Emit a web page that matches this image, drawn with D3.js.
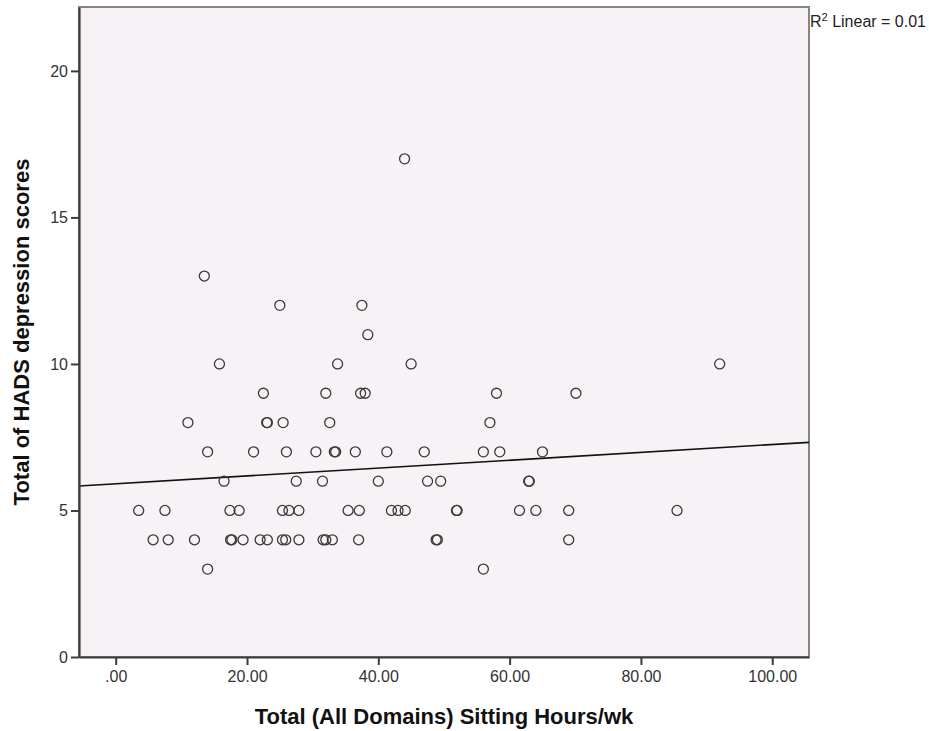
<!DOCTYPE html>
<html>
<head>
<meta charset="utf-8">
<script src="https://cdn.jsdelivr.net/npm/d3@7"></script>
<style>
  body { margin: 0; background: #fff; }
  .tick text { font-family: "Liberation Sans", Arial, sans-serif; font-size: 16px; fill: #333; }
  .axisTitle { font-family: "Liberation Sans", Arial, sans-serif; font-size: 22px; font-weight: bold; fill: #111; }
</style>
</head>
<body>
<div id="scatter"></div>
<script>
// values
var sittingHours = [
    44.0,
    13.5,
    25.0, 37.5,
    38.4,
    15.8, 33.8, 45.0, 92.0,
    22.5, 32.0, 37.3, 38.0, 58.0, 70.1,
    11.0, 23.0, 23.1, 25.5, 32.6, 57.0,
    14.0, 21.0, 26.0, 30.5, 33.3, 33.5, 36.5, 41.3, 47.0, 56.0, 58.5, 65.0,
    16.5, 27.5, 31.5, 40.0, 47.5, 49.5, 62.9, 63.0,
    3.5, 7.5, 17.4, 18.8, 25.4, 26.4, 27.9, 35.4, 37.1, 42.0, 43.0, 44.1, 51.9, 52.0, 61.5, 64.0, 69.0, 85.5,
    5.7, 8.0, 12.0, 17.5, 17.7, 19.4, 22.0, 23.1, 25.4, 25.9, 27.9, 31.6, 32.0, 33.0, 37.0, 48.8, 49.0, 69.0,
    14.0, 56.0
];
var hadsScores = [
    17,
    13,
    12, 12,
    11,
    10, 10, 10, 10,
    9, 9, 9, 9, 9, 9,
    8, 8, 8, 8, 8, 8,
    7, 7, 7, 7, 7, 7, 7, 7, 7, 7, 7, 7,
    6, 6, 6, 6, 6, 6, 6, 6,
    5, 5, 5, 5, 5, 5, 5, 5, 5, 5, 5, 5, 5, 5, 5, 5, 5, 5,
    4, 4, 4, 4, 4, 4, 4, 4, 4, 4, 4, 4, 4, 4, 4, 4, 4, 4,
    3, 3
];

var xTickValues = [0, 20, 40, 60, 80, 100];
var xTickLabels = [".00", "20.00", "40.00", "60.00", "80.00", "100.00"];
var yTickValues = [0, 5, 10, 15, 20];

// fit line (linear), R2 from the chart
var fitIntercept = 5.91;
var fitSlope = 0.0134;
var r2Text = "0.01";

var svgWidth = 929;
var svgHeight = 731;

var margin = {
    top: 7,
    right: 120,
    bottom: 74,
    left: 79
};

var width = svgWidth - margin.left - margin.right;
var height = svgHeight - margin.top - margin.bottom;

var svg = d3.select("#scatter")
            .append("svg")
            .attr("width", svgWidth)
            .attr("height", svgHeight);

var chartGroup = svg.append("g")
                    .attr("transform", `translate(${margin.left},${margin.top})`);

var xScale = d3.scaleLinear()
               .domain([-5.59, 105.6])
               .range([0, width]);
var yScale = d3.scaleLinear()
               .domain([0, 22.18])
               .range([height, 0]);

// plot background + frame
chartGroup.append("rect")
          .attr("x", 0)
          .attr("y", 0)
          .attr("width", width)
          .attr("height", height)
          .attr("fill", "#f6f2f6")
          .attr("stroke", "#858585")
          .attr("stroke-width", 2);

// regression line
var xDom = xScale.domain();
chartGroup.append("line")
          .attr("x1", xScale(xDom[0]))
          .attr("y1", yScale(fitIntercept + fitSlope * xDom[0]))
          .attr("x2", xScale(xDom[1]))
          .attr("y2", yScale(fitIntercept + fitSlope * xDom[1]))
          .attr("stroke", "#111")
          .attr("stroke-width", 1.6);

// points
var points = sittingHours.map((h, i) => ({ hours: h, score: hadsScores[i] }));
chartGroup.selectAll("circle.pt")
          .data(points)
          .enter()
          .append("circle")
          .attr("class", "pt")
          .attr("cx", d => xScale(d.hours))
          .attr("cy", d => yScale(d.score))
          .attr("r", 5)
          .attr("fill", "none")
          .attr("stroke", "#3a3a3a")
          .attr("stroke-width", 1.3);

// axes
var bottomAxis = d3.axisBottom(xScale)
                   .tickValues(xTickValues)
                   .tickFormat((d, i) => xTickLabels[i])
                   .tickSizeInner(8)
                   .tickSizeOuter(0)
                   .tickPadding(6);
var leftAxis = d3.axisLeft(yScale)
                 .tickValues(yTickValues)
                 .tickFormat(d3.format("d"))
                 .tickSizeInner(8)
                 .tickSizeOuter(0)
                 .tickPadding(3);

var xAxisG = chartGroup.append("g")
          .attr("transform", `translate(0,${height})`)
          .call(bottomAxis);
var yAxisG = chartGroup.append("g")
          .call(leftAxis);

[xAxisG, yAxisG].forEach(function(g) {
    g.select(".domain").attr("stroke", "#3c3c3c").attr("stroke-width", 2.2);
    g.selectAll(".tick line").attr("stroke", "#3c3c3c").attr("stroke-width", 2);
});

// axis titles
chartGroup.append("text")
          .attr("class", "axisTitle")
          .attr("text-anchor", "middle")
          .attr("x", width / 2)
          .attr("y", height + 67)
          .text("Total (All Domains) Sitting Hours/wk");

chartGroup.append("text")
          .attr("class", "axisTitle")
          .attr("text-anchor", "middle")
          .attr("transform", "rotate(-90)")
          .attr("x", 0 - (height / 2))
          .attr("y", 0 - margin.left + 29)
          .text("Total of HADS depression scores");

// R2 label
var r2 = svg.append("text")
            .attr("x", margin.left + width + 1)
            .attr("y", 27)
            .attr("font-family", "Liberation Sans, Arial, sans-serif")
            .attr("font-size", 16)
            .attr("fill", "#222");
r2.append("tspan").text("R");
r2.append("tspan").attr("font-size", 11).attr("dy", -6).text("2");
r2.append("tspan").attr("dy", 6).text(" Linear = " + r2Text);
</script>
</body>
</html>
